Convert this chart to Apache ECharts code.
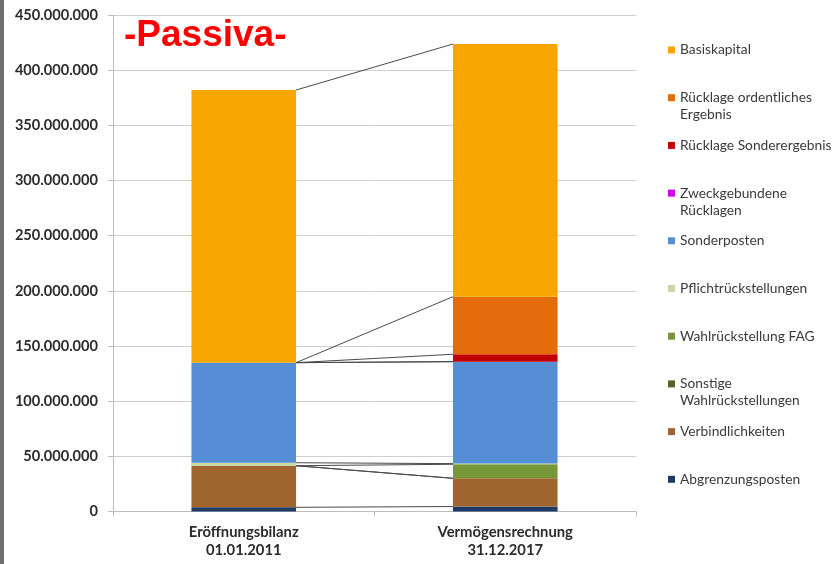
<!DOCTYPE html>
<html>
<head>
<meta charset="utf-8">
<script src="https://cdn.jsdelivr.net/npm/echarts@6/dist/echarts.min.js"></script>
<style>
  html, body { margin: 0; padding: 0; background: #ffffff; }
  #chart { width: 836px; height: 564px; }
</style>
</head>
<body>
<div id="chart"></div>
<script>
// Balance sheet liabilities: opening balance vs. 2017 statement
const categories = ['Eröffnungsbilanz\n01.01.2011', 'Vermögensrechnung\n31.12.2017'];

// Stack order from bottom to top
const abgrenzungsposten         = [3800000, 4500000];
const verbindlichkeiten         = [37700000, 25600000];
const sonstigeWahlrueckst       = [0, 0];
const wahlrueckstellungFAG      = [0, 12700000];
const pflichtrueckstellungen    = [2700000, 600000];
const sonderposten              = [90700000, 92400000];
const zweckgebundeneRuecklagen  = [0, 0];
const ruecklageSonderergebnis   = [0, 6700000];
const ruecklageOrdentlich       = [0, 52200000];
const basiskapital              = [247100000, 229000000];

const yTicks = { min: 0, max: 450000000, interval: 50000000 };

const stackSeries = [
  { name: 'Abgrenzungsposten', data: abgrenzungsposten, color: '#1F3A66' },
  { name: 'Verbindlichkeiten', data: verbindlichkeiten, color: '#A0642F' },
  { name: 'Sonstige Wahlrückstellungen', data: sonstigeWahlrueckst, color: '#4F6228' },
  { name: 'Wahlrückstellung FAG', data: wahlrueckstellungFAG, color: '#77973A' },
  { name: 'Pflichtrückstellungen', data: pflichtrueckstellungen, color: '#C6D9A0' },
  { name: 'Sonderposten', data: sonderposten, color: '#558ED5' },
  { name: 'Zweckgebundene Rücklagen', data: zweckgebundeneRuecklagen, color: '#CC00EE' },
  { name: 'Rücklage Sonderergebnis', data: ruecklageSonderergebnis, color: '#C00000' },
  { name: 'Rücklage ordentliches Ergebnis', data: ruecklageOrdentlich, color: '#E46C0A' },
  { name: 'Basiskapital', data: basiskapital, color: '#F9A603' }
];

// Legend labels, wrapped like the original legend box
const legendLines = {
  'Rücklage ordentliches Ergebnis': ['Rücklage ordentliches', 'Ergebnis'],
  'Zweckgebundene Rücklagen': ['Zweckgebundene', 'Rücklagen'],
  'Sonstige Wahlrückstellungen': ['Sonstige', 'Wahlrückstellungen']
};

const BAR_SHARE = 0.4;
const FONT = 'Lato, "Open Sans", sans-serif';
const LEGEND_LINE = 17;

// Cumulative top of every stack layer for both columns -> series connector lines
const connectorData = [];
let run0 = 0, run1 = 0;
stackSeries.forEach(s => {
  run0 += s.data[0];
  run1 += s.data[1];
  connectorData.push([0, run0, 1, run1]);
});

const germanNumber = v => String(v).replace(/\B(?=(\d{3})+(?!\d))/g, '.');

const barSeries = stackSeries.map(s => ({
  name: s.name,
  type: 'bar',
  stack: 'passiva',
  barWidth: (BAR_SHARE * 100) + '%',
  data: s.data,
  itemStyle: { color: s.color },
  emphasis: { disabled: true }
}));

const connectorSeries = {
  name: 'Reihenlinien',
  type: 'custom',
  silent: true,
  z: 3,
  encode: { x: [0, 2], y: [1, 3] },
  data: connectorData,
  renderItem: function (params, api) {
    const p0 = api.coord([api.value(0), api.value(1)]);
    const p1 = api.coord([api.value(2), api.value(3)]);
    const half = api.size([1, 0])[0] * BAR_SHARE / 2;
    return {
      type: 'line',
      shape: { x1: p0[0] + half, y1: p0[1], x2: p1[0] - half, y2: p1[1] },
      style: { stroke: '#4a4a4a', lineWidth: 1 }
    };
  }
};

// One legend block per entry (top to bottom = reverse stack order);
// wrapped entries get a second, marker-less block for their second line
const legendOrder = stackSeries.map(s => s.name).reverse();
const legendBase = {
  orient: 'vertical',
  left: 668,
  padding: 0,
  itemWidth: 7,
  itemHeight: 7,
  icon: 'rect',
  selectedMode: false,
  textStyle: { fontFamily: FONT, fontSize: 13.8, color: '#3a3a3a', lineHeight: LEGEND_LINE }
};
const legends = [];
legendOrder.forEach((name, i) => {
  const top = 50 + i * 47.7 - LEGEND_LINE / 2;
  const lines = legendLines[name] || [name];
  lines.forEach((line, k) => {
    legends.push(Object.assign({}, legendBase, {
      top: top + k * LEGEND_LINE,
      data: [name],
      formatter: () => line,
      itemStyle: k === 0 ? {} : { opacity: 0 }
    }));
  });
});

const chart = echarts.init(document.getElementById('chart'), null, { renderer: 'canvas' });
chart.setOption({
  animation: false,
  backgroundColor: '#ffffff',
  title: {
    text: '-Passiva-',
    left: 124,
    top: 17,
    padding: 0,
    textStyle: {
      fontFamily: '"Liberation Sans", Arial, sans-serif',
      fontSize: 37,
      fontWeight: 'bold',
      color: '#FF0000'
    }
  },
  graphic: [{
    type: 'rect',
    left: 0,
    top: 0,
    shape: { width: 4, height: 564 },
    style: { fill: '#6e6e6e' },
    silent: true
  }],
  legend: legends,
  grid: { left: 113, right: 200, top: 15, bottom: 52.5, containLabel: false },
  xAxis: {
    type: 'category',
    data: categories,
    axisLine: { show: true, lineStyle: { color: '#bdbdbd', width: 1 } },
    axisTick: { show: true, length: 5, lineStyle: { color: '#bdbdbd' } },
    axisLabel: {
      margin: 12,
      fontFamily: FONT,
      fontSize: 14.8,
      fontWeight: 'bold',
      color: '#2b2b2b',
      lineHeight: 18
    }
  },
  yAxis: {
    type: 'value',
    min: yTicks.min,
    max: yTicks.max,
    interval: yTicks.interval,
    axisLine: { show: true, lineStyle: { color: '#bdbdbd', width: 1 } },
    axisTick: { show: true, length: 5, lineStyle: { color: '#bdbdbd' } },
    splitLine: { show: true, lineStyle: { color: '#cfcfcf', width: 1 } },
    axisLabel: {
      margin: 15,
      fontFamily: FONT,
      fontSize: 14.6,
      fontWeight: 'bold',
      color: '#2b2b2b',
      formatter: germanNumber
    }
  },
  tooltip: { show: false },
  series: barSeries.concat([connectorSeries])
});
</script>
</body>
</html>
